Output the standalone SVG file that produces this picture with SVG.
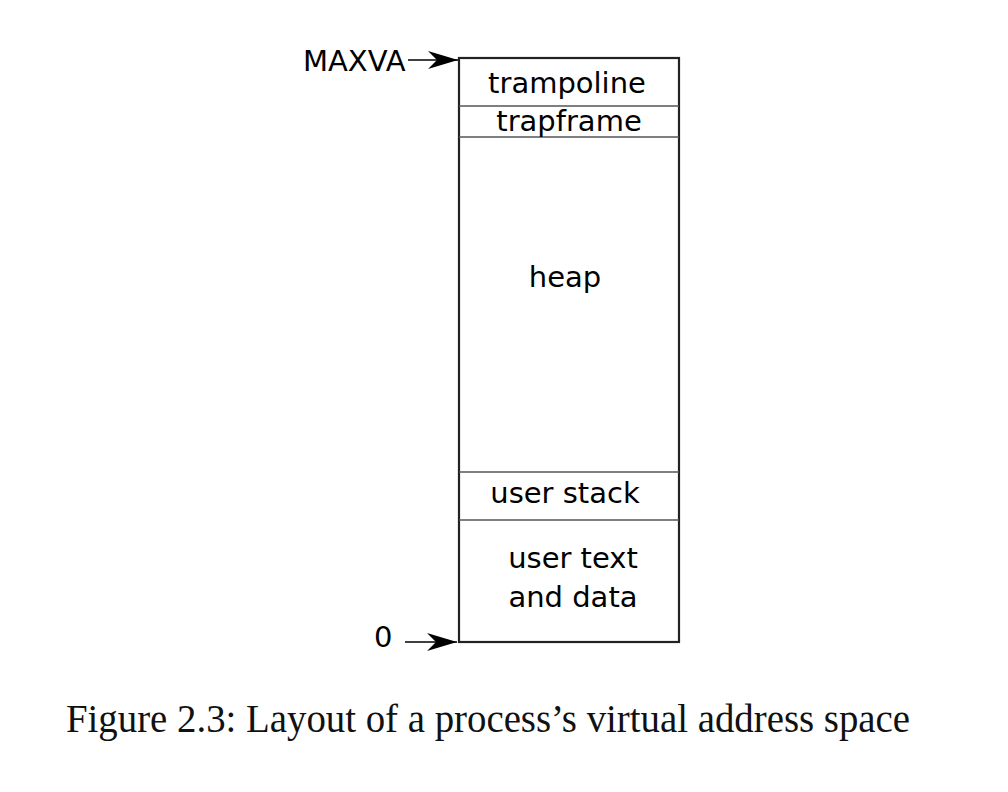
<svg xmlns="http://www.w3.org/2000/svg" width="1008" height="792" viewBox="0 0 1008 792">
  <style>
    .lbl { font-family: "DejaVu Sans", sans-serif; font-size: 29px; fill: #000; text-anchor: middle; }
    .side { font-family: "DejaVu Sans", sans-serif; font-size: 29px; fill: #000; }
    .cap { font-family: "Liberation Serif", serif; font-size: 40px; fill: #111; }
    .box { fill: none; stroke: #222; stroke-width: 2.2; }
    .div { stroke: #555; stroke-width: 1.4; }
    .arr { stroke: #000; stroke-width: 1.6; fill: none; }
  </style>
  <defs>
    <marker id="head" markerWidth="31" markerHeight="20" refX="30" refY="10" orient="auto" markerUnits="userSpaceOnUse">
      <path d="M0,1 L30,10 L0,19 L9,10 Z" fill="#000"/>
    </marker>
  </defs>
  <rect width="1008" height="792" fill="#fff"/>

  <!-- address space column -->
  <g id="column">
    <rect class="box" x="459" y="58" width="220" height="584"/>
  </g>
  <g id="trampoline">
    <line class="div" x1="459" y1="106" x2="679" y2="106"/>
    <text class="lbl" x="567" y="93">trampoline</text>
  </g>
  <g id="trapframe">
    <line class="div" x1="459" y1="137" x2="679" y2="137"/>
    <text class="lbl" x="569" y="131">trapframe</text>
  </g>
  <g id="heap">
    <text class="lbl" x="565" y="287">heap</text>
  </g>
  <g id="user-stack">
    <line class="div" x1="459" y1="472" x2="679" y2="472"/>
    <line class="div" x1="459" y1="520" x2="679" y2="520"/>
    <text class="lbl" x="565" y="503">user stack</text>
  </g>
  <g id="user-text">
    <text class="lbl" x="573" y="568">user text</text>
    <text class="lbl" x="573" y="607">and data</text>
  </g>

  <!-- address labels -->
  <g id="maxva">
    <text class="side" x="303" y="71">MAXVA</text>
  </g>
  <g id="zero">
    <text class="side" x="374" y="647">0</text>
  </g>

  <g id="connectors">
    <line class="arr" x1="408" y1="60" x2="458" y2="60" marker-end="url(#head)"/>
    <line class="arr" x1="405" y1="642" x2="457" y2="642" marker-end="url(#head)"/>
  </g>

  <text class="cap" x="66" y="732" textLength="844" lengthAdjust="spacingAndGlyphs">Figure 2.3: Layout of a process’s virtual address space</text>
</svg>
